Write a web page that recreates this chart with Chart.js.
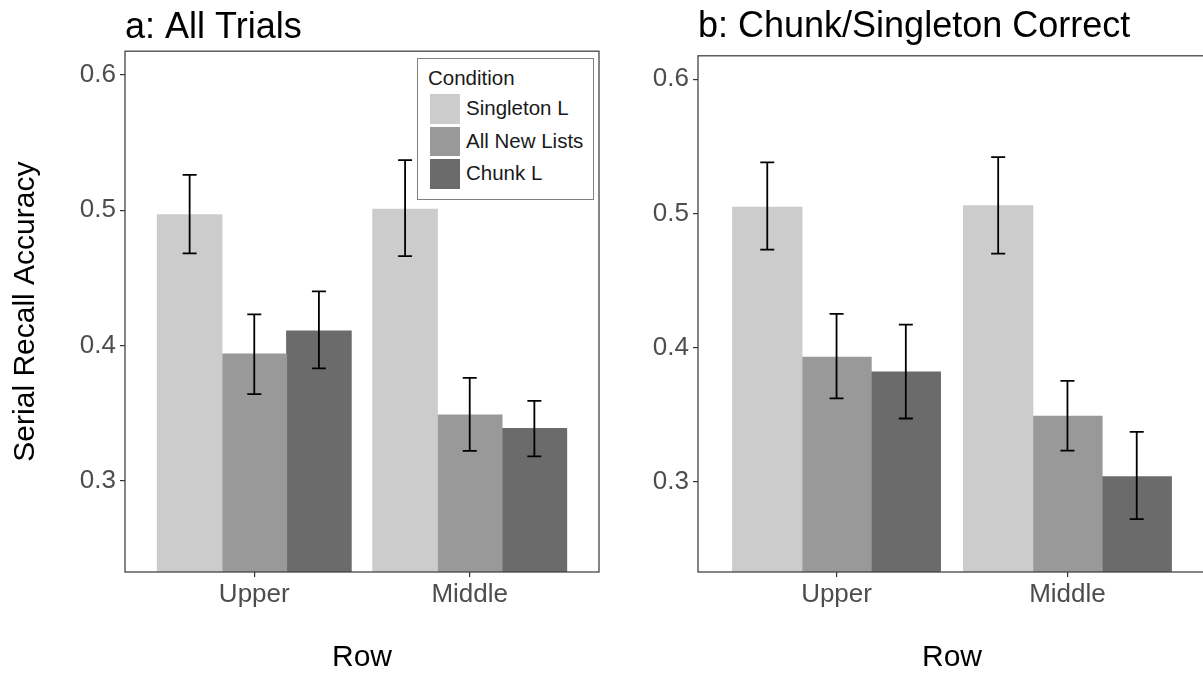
<!DOCTYPE html>
<html>
<head>
<meta charset="utf-8">
<script src="https://cdn.jsdelivr.net/npm/chart.js@4.4.1/dist/chart.umd.min.js"></script>
<style>
  body { margin: 0; background: #fff; overflow: hidden; width: 1203px; height: 673px; position: relative;
         font-family: "Liberation Sans", Arial, sans-serif; }
  #panelA { position: absolute; left: 0; top: 0; width: 610px; height: 673px; }
  #panelB { position: absolute; left: 610px; top: 0; width: 593px; height: 673px; overflow: hidden; }
  #legend { position: absolute; left: 417px; top: 58px; width: 175px; height: 140px;
            border: 1.5px solid #808080; background: #fff; color: #1a1a1a; font-size: 20.5px; }
  #legend div { position: absolute; white-space: nowrap; }
</style>
</head>
<body>
<div id="panelA"><canvas id="chartA" width="610" height="673"></canvas></div>
<div id="panelB"><canvas id="chartB" width="610" height="673"></canvas></div>
<div id="legend"></div>
<script>
var categories = ['Upper', 'Middle'];
var conditions = ['Singleton L', 'All New Lists', 'Chunk L'];
var yTicks = [0.3, 0.4, 0.5, 0.6];

// a: All Trials
var allSingleton = [0.497, 0.501];
var allNewLists = [0.394, 0.349];
var allChunk = [0.411, 0.339];
var allSingletonErr = [[0.468, 0.526], [0.466, 0.537]];
var allNewListsErr = [[0.364, 0.423], [0.322, 0.376]];
var allChunkErr = [[0.383, 0.440], [0.318, 0.359]];

// b: Chunk/Singleton Correct
var corSingleton = [0.505, 0.506];
var corNewLists = [0.393, 0.349];
var corChunk = [0.382, 0.304];
var corSingletonErr = [[0.473, 0.538], [0.470, 0.542]];
var corNewListsErr = [[0.362, 0.425], [0.323, 0.375]];
var corChunkErr = [[0.347, 0.417], [0.272, 0.337]];

var colors = ['#cccccc', '#999999', '#6b6b6b'];
var fontFamily = '"Liberation Sans", Arial, sans-serif';

var errorBarPlugin = {
    id: 'errorBars',
    afterDatasetsDraw: function (chart) {
        var ctx = chart.ctx;
        var y = chart.scales.y;
        ctx.save();
        ctx.strokeStyle = '#000';
        ctx.lineWidth = 1.8;
        chart.data.datasets.forEach(function (ds, i) {
            chart.getDatasetMeta(i).data.forEach(function (bar, j) {
                var lo = y.getPixelForValue(ds.errors[j][0]);
                var hi = y.getPixelForValue(ds.errors[j][1]);
                ctx.beginPath();
                ctx.moveTo(bar.x, lo); ctx.lineTo(bar.x, hi);
                ctx.moveTo(bar.x - 7, lo); ctx.lineTo(bar.x + 7, lo);
                ctx.moveTo(bar.x - 7, hi); ctx.lineTo(bar.x + 7, hi);
                ctx.stroke();
            });
        });
        // panel border
        var a = chart.chartArea;
        ctx.strokeStyle = '#444';
        ctx.lineWidth = 1.3;
        ctx.strokeRect(a.left, a.top, a.right - a.left, a.bottom - a.top);
        ctx.restore();
    }
};

function toPoints(values) {
    return values.map(function (v, i) { return { x: i + 1, y: v }; });
}

function makeChart(id, series, errors, title, cfg) {
    var datasets = series.map(function (s, i) {
        return {
            label: conditions[i],
            data: toPoints(s),
            errors: errors[i],
            backgroundColor: colors[i],
            borderWidth: 0,
            barPercentage: 1.015,
            categoryPercentage: 0.9
        };
    });
    return new Chart(document.getElementById(id).getContext('2d'), {
        type: 'bar',
        data: { datasets: datasets },
        plugins: [errorBarPlugin],
        options: {
            responsive: false,
            animation: false,
            layout: { padding: { left: 0, right: cfg.padRight, top: 0, bottom: 0 } },
            plugins: {
                legend: { display: false },
                tooltip: { enabled: false },
                title: {
                    display: true,
                    text: title,
                    align: 'start',
                    fullSize: false,
                    color: '#000',
                    font: { family: fontFamily, size: 36, weight: 'normal', lineHeight: 1.2 },
                    padding: cfg.titlePad
                }
            },
            scales: {
                x: {
                    type: 'linear',
                    offset: false,
                    min: 0.4,
                    max: 2.6,
                    afterBuildTicks: function (scale) {
                        scale.ticks = categories.map(function (c, i) { return { value: i + 1 }; });
                    },
                    afterFit: function (scale) { scale.height = 101; },
                    grid: { display: true, offset: false, drawOnChartArea: false, drawTicks: true, tickLength: 5, color: '#333', lineWidth: 1.2 },
                    border: { display: false },
                    ticks: {
                        color: '#4d4d4d',
                        font: { family: fontFamily, size: 26 },
                        padding: 2,
                        maxRotation: 0,
                        autoSkip: false,
                        callback: function (v) { return categories[v - 1]; }
                    },
                    title: {
                        display: true,
                        text: 'Row',
                        color: '#000',
                        font: { family: fontFamily, size: 30, lineHeight: 1 },
                        padding: { top: 0, bottom: 0 }
                    }
                },
                y: {
                    min: 0.2325,
                    max: 0.6175,
                    afterBuildTicks: function (scale) {
                        scale.ticks = yTicks.map(function (v) { return { value: v }; });
                    },
                    afterFit: function (scale) { scale.width = cfg.yWidth; },
                    grid: { display: true, drawOnChartArea: false, drawTicks: true, tickLength: 5, color: '#333', lineWidth: 1.2 },
                    border: { display: false },
                    ticks: {
                        color: '#4d4d4d',
                        font: { family: fontFamily, size: 26 },
                        padding: 4,
                        callback: function (v) { return v.toFixed(1); }
                    },
                    title: {
                        display: cfg.yTitle,
                        text: 'Serial Recall Accuracy',
                        color: '#000',
                        font: { family: fontFamily, size: 30, lineHeight: 1.2 },
                        padding: { top: 8, bottom: 0 }
                    }
                }
            }
        }
    });
}

var chartA = makeChart('chartA',
    [allSingleton, allNewLists, allChunk],
    [allSingletonErr, allNewListsErr, allChunkErr],
    'a: All Trials',
    { padRight: 11, yWidth: 125, yTitle: true, titlePad: { top: 6.5, bottom: 1.5 } });

var chartB = makeChart('chartB',
    [corSingleton, corNewLists, corChunk],
    [corSingletonErr, corNewListsErr, corChunkErr],
    'b: Chunk/Singleton Correct',
    { padRight: 14, yWidth: 88, yTitle: false, titlePad: { top: 5.8, bottom: 6.8 } });

// legend inside panel a
var legend = document.getElementById('legend');
var head = document.createElement('div');
head.textContent = 'Condition';
head.style.left = '10px';
head.style.top = '7px';
legend.appendChild(head);
chartA.data.datasets.forEach(function (ds, i) {
    var key = document.createElement('div');
    key.style.left = '12px';
    key.style.top = (35 + i * 32.5) + 'px';
    key.style.width = '30px';
    key.style.height = '29.5px';
    key.style.background = ds.backgroundColor;
    legend.appendChild(key);
    var lab = document.createElement('div');
    lab.textContent = ds.label;
    lab.style.left = '48px';
    lab.style.top = (37 + i * 32.5) + 'px';
    legend.appendChild(lab);
});
</script>
</body>
</html>
